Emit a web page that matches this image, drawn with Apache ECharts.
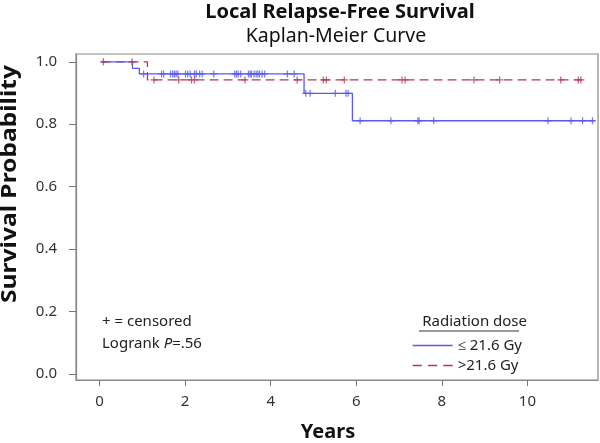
<!DOCTYPE html>
<html>
<head>
<meta charset="utf-8">
<script src="https://cdn.jsdelivr.net/npm/echarts@6/dist/echarts.min.js"></script>
<style>html,body{margin:0;padding:0;background:#fff}#c{width:600px;height:443px}</style>
</head>
<body>
<div id="c"></div>
<script>
// ---- data ----
var xTicks = [0, 2, 4, 6, 8, 10];
var yTicks = [0, 0.2, 0.4, 0.6, 0.8, 1.0];

// Kaplan-Meier steps: [time, survival] (step at each event)
var lowStepTimes = [0.05, 0.77, 0.93, 4.78, 5.91, 11.57];
var lowStepSurv  = [1.0, 0.979, 0.961, 0.899, 0.811, 0.811];
var highStepTimes = [0.05, 1.12, 11.28];
var highStepSurv  = [1.0, 0.942, 0.942];

// censored times
var lowCensor = [1.03, 1.45, 1.50, 1.66, 1.71, 1.75, 1.79, 1.83, 2.01, 2.06, 2.12, 2.22, 2.26, 2.34, 2.40, 2.67,
  3.16, 3.20, 3.24, 3.30, 3.48, 3.52, 3.55, 3.61, 3.66, 3.70, 3.74, 3.80, 3.86, 4.39, 4.55,
  4.82, 4.92, 5.51, 5.76, 5.81,
  6.09, 6.81, 7.44, 7.47, 7.81, 10.48, 11.02, 11.29, 11.52];
var highCensor = [0.09, 0.76, 1.27, 1.85, 2.15, 2.22, 3.40, 4.62, 5.23, 5.30, 5.72, 7.07, 7.14, 8.75, 9.35, 10.78, 11.19, 11.25];

var seriesNames = ['\u2264 21.6 Gy', '>21.6 Gy'];
var blue = '#5a5af2', red = '#b23a52';

function pairs(t, s) { return t.map(function (v, i) { return [v, s[i]]; }); }
function survAt(t, times, surv) {
  var v = surv[0];
  for (var i = 0; i < times.length; i++) { if (times[i] <= t) v = surv[i]; }
  return v;
}
function censorPts(c, times, surv) { return c.map(function (t) { return [t, survAt(t, times, surv)]; }); }

var plus = 'path://M3,0H4.3V2.9H7.3V4.2H4.3V7.1H3V4.2H0V2.9H3Z';
var solidIcon = 'path://M0,0H40V1.3H0Z';
var dashIcon = 'path://M0,0H9V1.3H0Z M15,0H24V1.3H15Z M30,0H39V1.3H30Z';

var chart = echarts.init(document.getElementById('c'), null, { renderer: 'canvas' });
var tickFont = { fontFamily: 'Noto Sans', fontSize: 15, color: '#333' };

chart.setOption({
  animation: false,
  backgroundColor: '#fff',
  grid: { left: 76, right: 2, top: 54, bottom: 63, show: true, borderColor: '#888', borderWidth: 1.2,
    outerBoundsMode: 'none', containLabel: false },
  title: [
    { text: 'Local Relapse-Free Survival', left: 335, top: -3, textAlign: 'center',
      textStyle: { fontFamily: 'Noto Sans', fontWeight: 'bold', fontSize: 20, color: '#111' } },
    { text: 'Kaplan-Meier Curve', left: 331, top: 21, textAlign: 'center',
      textStyle: { fontFamily: 'Noto Sans', fontWeight: 'normal', fontSize: 19.5, color: '#111' } }
  ],
  xAxis: {
    type: 'value', min: -0.55, max: 11.65,
    name: 'Years', nameLocation: 'middle', nameGap: 42,
    nameTextStyle: { fontFamily: 'Noto Sans', fontWeight: 'bold', fontSize: 20, color: '#111', padding: [0, 18, 0, 0] },
    axisLine: { show: true, onZero: false, lineStyle: { color: '#888', width: 1.2 } },
    axisTick: { show: true, length: 6, customValues: xTicks, lineStyle: { color: '#777' } },
    axisLabel: { customValues: xTicks, margin: 14, ...tickFont, formatter: function (v) { return String(v); } },
    splitLine: { show: false }
  },
  yAxis: {
    type: 'value', min: -0.02, max: 1.025,
    axisLine: { show: true, onZero: false, lineStyle: { color: '#888', width: 1.2 } },
    axisTick: { show: true, length: 7, customValues: yTicks, lineStyle: { color: '#777' } },
    axisLabel: { customValues: yTicks, margin: 19, ...tickFont, formatter: function (v) { return v.toFixed(1); } },
    splitLine: { show: false }
  },
  legend: {
    data: [
      { name: seriesNames[0], icon: solidIcon, itemStyle: { color: blue } },
      { name: seriesNames[1], icon: dashIcon, itemStyle: { color: red } }
    ],
    orient: 'vertical', right: 73, top: 333, itemGap: 5, itemWidth: 40, itemHeight: 14,
    align: 'left', textStyle: { fontFamily: 'Noto Sans', fontSize: 15, color: '#222' }, selectedMode: false
  },
  graphic: [
    { type: 'text', x: 10, y: 184, rotation: Math.PI / 2, scaleX: 1.17,
      style: { text: 'Survival Probability', fontFamily: 'Noto Sans', fontWeight: 'bold', fontSize: 21, fill: '#111', align: 'center', verticalAlign: 'middle' } },
    { type: 'text', x: 102, y: 322,
      style: { text: '+ = censored', fontFamily: 'Noto Sans', fontSize: 15, fill: '#222', verticalAlign: 'middle' } },
    { type: 'text', x: 102, y: 344,
      style: { text: '{n|Logrank }{i|P}{n|=.56}', verticalAlign: 'middle',
        rich: { n: { fontFamily: 'Noto Sans', fontSize: 15, fill: '#222' }, i: { fontFamily: 'Noto Sans', fontSize: 15, fontStyle: 'italic', fill: '#222' } } } },
    { type: 'text', x: 527, y: 322,
      style: { text: 'Radiation dose', fontFamily: 'Noto Sans', fontSize: 15, fill: '#222', align: 'right', verticalAlign: 'middle' } },
    { type: 'line', shape: { x1: 419, y1: 331, x2: 519, y2: 331 }, style: { stroke: '#333', lineWidth: 1 } }
  ],
  series: [
    { name: seriesNames[0], type: 'line', step: 'end', data: pairs(lowStepTimes, lowStepSurv), showSymbol: false, symbol: 'none',
      lineStyle: { color: blue, width: 1.3 }, itemStyle: { color: blue }, z: 3 },
    { name: seriesNames[1], type: 'line', step: 'end', data: pairs(highStepTimes, highStepSurv), showSymbol: false, symbol: 'none',
      lineStyle: { color: red, width: 1.3, type: [9, 5] }, itemStyle: { color: red }, z: 2 },
    { name: 'c1', type: 'scatter', data: censorPts(lowCensor, lowStepTimes, lowStepSurv), symbol: plus, symbolSize: [7, 7],
      itemStyle: { color: blue }, z: 4 },
    { name: 'c2', type: 'scatter', data: censorPts(highCensor, highStepTimes, highStepSurv), symbol: plus, symbolSize: [7, 7],
      itemStyle: { color: red }, z: 4 }
  ]
});
</script>
</body>
</html>
